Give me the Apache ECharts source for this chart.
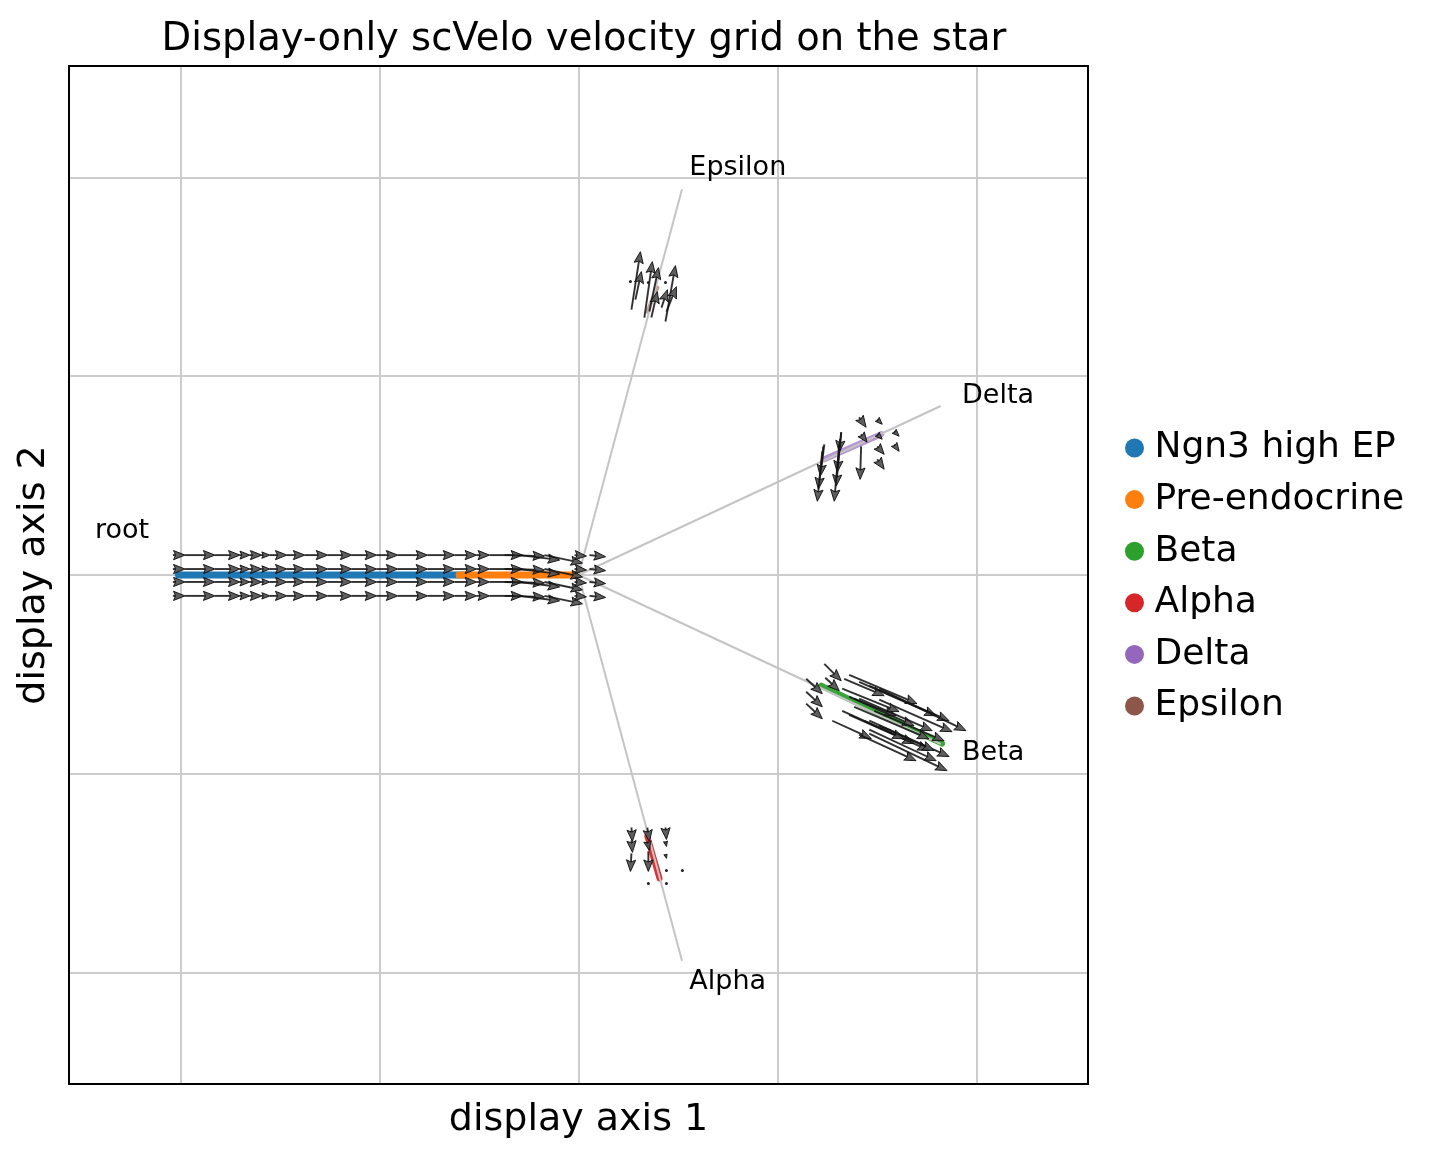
<!DOCTYPE html>
<html>
<head>
<meta charset="utf-8">
<title>scVelo velocity grid on the star</title>
<script src="https://cdn.jsdelivr.net/npm/echarts@6/dist/echarts.min.js"></script>
<style>
  html, body { margin: 0; padding: 0; background: #fff; }
  #main { width: 1436px; height: 1155px; }
</style>
</head>
<body>
<div id="main"></div>
<script>
// cell types in legend order
var cellTypes = ['Ngn3 high EP', 'Pre-endocrine', 'Beta', 'Alpha', 'Delta', 'Epsilon'];

// where each cell type sits on the star, [start, end]
var ngn3Cells = [[-2.01, 0], [-0.55, 0]];
var preEndoCells = [[-0.60, 0], [-0.005, 0]];
var betaCells = [[1.22, -0.557], [1.827, -0.848]];
var alphaCells = [[0.346, -1.315], [0.407, -1.526]];
var deltaCells = [[1.235, 0.582], [1.521, 0.708]];
var epsilonCells = [[0.346, 1.325], [0.397, 1.446]];

// star branches from the centre
var armCentre = [0, 0];
var armEnds = [[0.52, 1.94], [1.82, 0.85], [1.82, -0.85], [0.52, -1.94]];

// text labels
var labelNames = ['Epsilon', 'Delta', 'Beta', 'Alpha', 'root'];
var labelX = [0.557, 1.927, 1.927, 0.557, -2.429];
var labelY = [2.048, 0.898, -0.893, -2.048, 0.221];

// velocity arrows on the stem: four rows, a chain of heads, then the bend at the centre
var stemRowY = [0.100, 0.030, -0.035, -0.105];
var stemStartX = -2.038;
var stemHeadX = [-1.977, -1.827, -1.701, -1.651, -1.591, -1.551, -1.465, -1.375, -1.260,
  -1.139, -1.014, -0.908, -0.758, -0.622, -0.512, -0.447, -0.281];
// [x0, x1, drop in y]
var stemEndArrows = [[-0.371, -0.171, -0.005], [-0.296, -0.095, -0.025], [-0.171, 0.020, -0.040],
  [-0.020, 0.040, -0.005], [0.055, 0.136, -0.008]];

// [x, y, u, v]
var epsilonArrows = [
  [0.266, 1.335, 0.045, 0.291], [0.286, 1.385, 0.030, 0.141], [0.331, 1.295, 0.040, 0.281],
  [0.356, 1.325, 0.046, 0.221], [0.366, 1.295, 0.030, 0.130], [0.437, 1.275, 0.050, 0.281],
  [0.417, 1.345, 0.030, 0.090], [0.442, 1.325, 0.050, 0.125],
  [0.261, 1.476, 0, 0], [0.351, 1.471, 0, 0], [0.437, 1.471, 0, 0]
];
var deltaArrows = [
  [1.235, 0.657, -0.020, -0.160], [1.230, 0.647, -0.025, -0.215], [1.225, 0.622, -0.025, -0.251],
  [1.320, 0.718, -0.010, -0.100], [1.320, 0.718, -0.020, -0.201], [1.315, 0.683, -0.020, -0.236],
  [1.310, 0.657, -0.025, -0.286], [1.420, 0.647, -0.005, -0.166], [1.410, 0.793, 0.035, -0.050],
  [1.420, 0.708, 0.030, -0.040], [1.501, 0.783, 0.025, -0.025], [1.501, 0.708, 0.025, -0.025],
  [1.586, 0.723, 0.025, -0.025], [1.586, 0.657, 0.025, -0.035], [1.501, 0.647, 0.035, -0.040],
  [1.501, 0.582, 0.035, -0.050]
];
var betaArrows = [
  [1.235, -0.447, 0.085, -0.085], [1.144, -0.522, 0.081, -0.075], [1.144, -0.587, 0.081, -0.076],
  [1.144, -0.647, 0.081, -0.076], [1.240, -0.517, 0.070, -0.065], [1.335, -0.522, 0.201, -0.085],
  [1.360, -0.502, 0.341, -0.145], [1.410, -0.537, 0.387, -0.171], [1.461, -0.557, 0.401, -0.176],
  [1.511, -0.572, 0.436, -0.211], [1.385, -0.622, 0.211, -0.086], [1.360, -0.612, 0.326, -0.146],
  [1.410, -0.622, 0.367, -0.161], [1.511, -0.627, 0.366, -0.161], [1.275, -0.733, 0.196, -0.090],
  [1.360, -0.703, 0.326, -0.145], [1.435, -0.733, 0.327, -0.150], [1.461, -0.733, 0.401, -0.180],
  [1.410, -0.803, 0.286, -0.131], [1.461, -0.778, 0.336, -0.156], [1.461, -0.798, 0.391, -0.186],
  [1.325, -0.572, 0.286, -0.115], [1.385, -0.663, 0.376, -0.161], [1.325, -0.683, 0.311, -0.141],
  [1.486, -0.683, 0.351, -0.151], [1.511, -0.758, 0.276, -0.125]
];
var alphaArrows = [
  [0.266, -1.270, 0.005, -0.070], [0.266, -1.335, 0.005, -0.060], [0.266, -1.400, -0.005, -0.091],
  [0.346, -1.270, 0.010, -0.070], [0.346, -1.340, 0.010, -0.045], [0.351, -1.390, 0, -0.101],
  [0.437, -1.270, 0.005, -0.060], [0.437, -1.340, 0.005, -0.025], [0.437, -1.405, 0.005, -0.020],
  [0.442, -1.486, 0, 0], [0.522, -1.486, 0, 0], [0.351, -1.551, 0, 0], [0.442, -1.551, 0, 0]
];

var cellColors = ['#1f77b4', '#ff7f0e', '#2ca02c', '#d62728', '#9467bd', '#8c564b'];
var cellOpacity = [1, 1, 0.95, 0.95, 0.7, 0.55];
var cellWidth = [7, 7, 6, 6, 6, 4];
var FONT = 'DejaVu Sans';

// build stem arrows from the rows
var stemArrows = [];
stemRowY.forEach(function (y) {
  var prev = stemStartX;
  stemHeadX.forEach(function (hx) {
    stemArrows.push([prev, y, hx - prev, 0]);
    prev = hx;
  });
  stemEndArrows.forEach(function (a) {
    stemArrows.push([a[0], y, a[1] - a[0], a[2]]);
  });
});
var allArrows = stemArrows.concat(epsilonArrows, deltaArrows, betaArrows, alphaArrows);

function renderArrow(params, api) {
  var p0 = api.coord([api.value(0), api.value(1)]);
  var p1 = api.coord([api.value(0) + api.value(2), api.value(1) + api.value(3)]);
  var dx = p1[0] - p0[0], dy = p1[1] - p0[1];
  var len = Math.sqrt(dx * dx + dy * dy);
  if (len < 1) {
    return { type: 'circle', shape: { cx: p0[0], cy: p0[1], r: 1.5 }, style: { fill: '#222' } };
  }
  var ux = dx / len, uy = dy / len;
  var hl = Math.min(11.5, len), hw = hl * 0.4, back = hl * 0.82;
  var bx = p1[0] - ux * hl, by = p1[1] - uy * hl;
  var nx = p1[0] - ux * back, ny = p1[1] - uy * back;
  return {
    type: 'group',
    children: [
      { type: 'line', shape: { x1: p0[0], y1: p0[1], x2: nx, y2: ny },
        style: { stroke: 'rgba(20,20,20,0.88)', lineWidth: 1.9 } },
      { type: 'polygon',
        shape: { points: [[p1[0], p1[1]], [bx - uy * hw, by + ux * hw], [nx, ny], [bx + uy * hw, by - ux * hw]] },
        style: { fill: 'rgba(80,80,80,0.92)', stroke: 'rgba(10,10,10,0.9)', lineWidth: 1 } }
    ]
  };
}

var cellData = [ngn3Cells, preEndoCells, betaCells, alphaCells, deltaCells, epsilonCells];
var series = cellTypes.map(function (name, i) {
  return {
    name: name,
    type: 'line',
    data: cellData[i],
    showSymbol: false,
    silent: true,
    z: 2,
    itemStyle: { color: cellColors[i] },
    lineStyle: { color: cellColors[i], width: cellWidth[i], opacity: cellOpacity[i], cap: 'round' }
  };
});

series.push({
  type: 'lines',
  coordinateSystem: 'cartesian2d',
  silent: true,
  z: 3,
  lineStyle: { color: '#c4c4c4', width: 2, opacity: 1 },
  data: armEnds.map(function (e) { return { coords: [armCentre, e] }; })
});

series.push({
  type: 'custom',
  renderItem: renderArrow,
  data: allArrows,
  encode: { x: 0, y: 1 },
  silent: true,
  z: 4
});

series.push({
  type: 'scatter',
  symbolSize: 0,
  silent: true,
  z: 5,
  itemStyle: { opacity: 1 },
  data: labelNames.map(function (n, i) { return { name: n, value: [labelX[i], labelY[i]] }; }),
  label: {
    show: true, position: 'right', distance: 0,
    formatter: '{b}', fontSize: 27, fontFamily: FONT, color: '#000', opacity: 1
  }
});

var frameLine = { show: true, onZero: false, lineStyle: { color: '#000', width: 2 } };
var noMarks = {
  axisTick: { show: false }, axisLabel: { show: false }, splitLine: { show: false }
};

var myChart = echarts.init(document.getElementById('main'));
var option = {
  animation: false,
  backgroundColor: '#fff',
  title: {
    text: 'Display-only scVelo velocity grid on the star',
    left: 579, top: 15, textAlign: 'center',
    textStyle: { fontSize: 38.5, fontWeight: 'normal', fontFamily: FONT, color: '#000' }
  },
  legend: {
    orient: 'vertical', left: 1120, top: 424,
    itemWidth: 20, itemHeight: 19, itemGap: 13.6, icon: 'circle',
    data: cellTypes,
    textStyle: { fontSize: 36, fontFamily: FONT, color: '#000', lineHeight: 38, padding: [0, 0, 0, 5] }
  },
  grid: {
    left: 69, top: 66, width: 1019, height: 1018
  },
  xAxis: [{
    type: 'value', min: -2.56, max: 2.56, minInterval: 1, maxInterval: 1,
    name: 'display axis 1', nameLocation: 'middle', nameGap: 17,
    nameTextStyle: { fontSize: 38, fontFamily: FONT, color: '#000' },
    axisLine: frameLine, axisTick: { show: false }, axisLabel: { show: false },
    splitLine: { lineStyle: { color: '#cccccc', width: 2 } }
  }, Object.assign({
    type: 'value', position: 'top', min: -2.56, max: 2.56, axisLine: frameLine
  }, noMarks)],
  yAxis: [{
    type: 'value', min: -2.56, max: 2.56, minInterval: 1, maxInterval: 1,
    name: 'display axis 2', nameLocation: 'middle', nameGap: 16,
    nameTextStyle: { fontSize: 38, fontFamily: FONT, color: '#000' },
    axisLine: frameLine, axisTick: { show: false }, axisLabel: { show: false },
    splitLine: { lineStyle: { color: '#cccccc', width: 2 } }
  }, Object.assign({
    type: 'value', position: 'right', min: -2.56, max: 2.56, axisLine: frameLine
  }, noMarks)],
  series: series
};
myChart.setOption(option);
</script>
</body>
</html>
